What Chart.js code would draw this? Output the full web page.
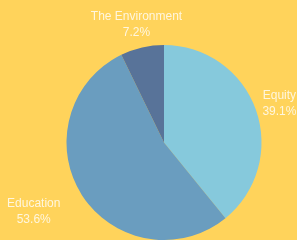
<!DOCTYPE html>
<html>
<head>
<meta charset="utf-8">
<script src="https://cdn.jsdelivr.net/npm/chart.js@4.4.1/dist/chart.umd.min.js"></script>
<style>
  html, body { margin: 0; padding: 0; background: #ffd35b; }
  #wrap { width: 297px; height: 240px; position: relative; }
</style>
</head>
<body>
<div id="wrap"><canvas id="pie"></canvas></div>
<script>
const categories = ["Equity", "Education", "The Environment"];
const shares = [39.1, 53.6, 7.2];
const sliceColors = ["#86c9dc", "#6a9dbf", "#587399"];

// extra nudge for labels that sit off the plain radial spot
const labelNudge = [[0, 2], [-27, 3], [0, 2]];

const outsideLabels = {
  id: "outsideLabels",
  afterDatasetsDraw(chart) {
    const ctx = chart.ctx;
    const meta = chart.getDatasetMeta(0);
    ctx.save();
    ctx.font = "12px 'Liberation Sans', Arial, sans-serif";
    ctx.fillStyle = "rgba(255,255,255,0.8)";
    ctx.textAlign = "center";
    ctx.textBaseline = "middle";
    meta.data.forEach((arc, i) => {
      const p = arc.getProps(["x", "y", "startAngle", "endAngle", "outerRadius"], true);
      const mid = (p.startAngle + p.endAngle) / 2;
      const r = p.outerRadius + 25;
      const x = p.x + Math.cos(mid) * r + labelNudge[i][0];
      const y = p.y + Math.sin(mid) * r + labelNudge[i][1];
      ctx.fillText(categories[i], x, y - 8);
      ctx.fillText(shares[i].toFixed(1) + "%", x, y + 8);
    });
    ctx.restore();
  },
};

new Chart(document.getElementById("pie"), {
  type: "pie",
  data: {
    labels: categories,
    datasets: [
      {
        data: shares,
        backgroundColor: sliceColors,
        borderWidth: 0,
      },
    ],
  },
  options: {
    responsive: true,
    maintainAspectRatio: false,
    animation: false,
    layout: { padding: { top: 45, bottom: -1, left: 66, right: 35 } },
    plugins: {
      legend: { display: false },
      tooltip: { enabled: false },
    },
  },
  plugins: [outsideLabels],
});
</script>
</body>
</html>
